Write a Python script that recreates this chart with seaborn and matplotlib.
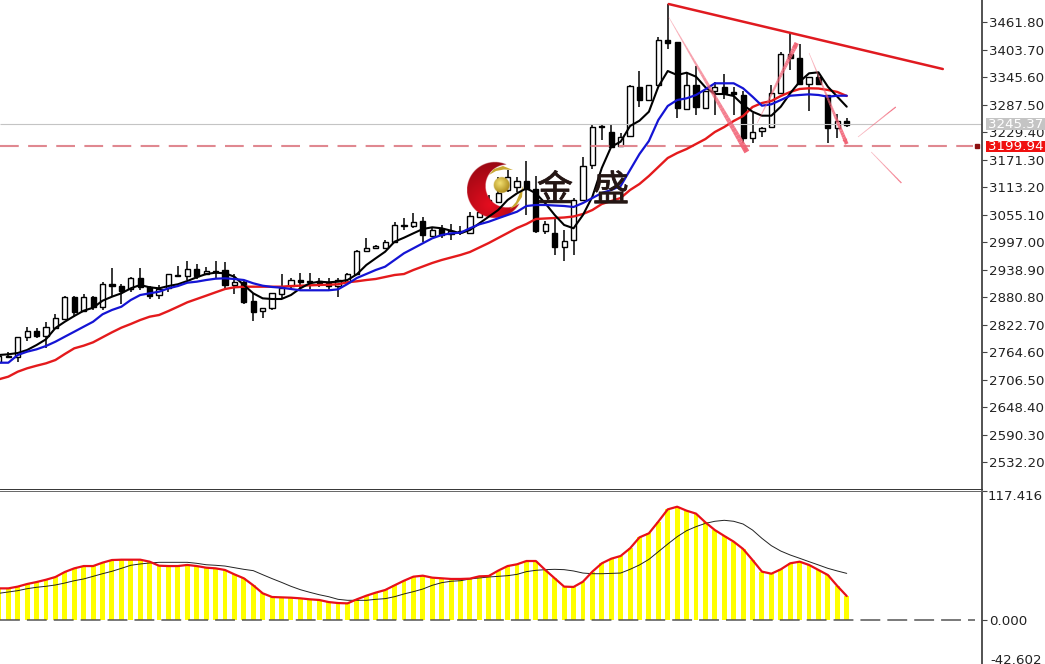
import numpy as np
import pandas as pd
import matplotlib
matplotlib.use("Agg")
import matplotlib.pyplot as plt
import matplotlib.patheffects as pe
from matplotlib.collections import LineCollection
from matplotlib.patches import Rectangle, Polygon
from matplotlib.transforms import Affine2D, Bbox
import seaborn as sns

opens = [2743,2757,2754,2796,2809,2799,2816,2834,2881,2852,2881,2860,2908,2905,2897,2921,2903,2885,2899,2928,2926,2939,2929,2936,2937,2906,2913,2872,2851,2857,2888,2904,2917,2915,2915,2910,2905,2913,2929,2978,2984,2985,2996,3030,3031,3041,3010,3024,3014,3021,3015,3050,3060,3082,3107,3113,3126,3110,3021,3015,2987,3001,3086,3160,3242,3230,3200,3221,3325,3296,3329,3424,3419,3279,3329,3281,3317,3325,3313,3308,3216,3231,3241,3311,3394,3385,3330,3346,3308,3238,3253]
highs = [2756,2764,2796,2818,2816,2828,2845,2883,2882,2887,2882,2912,2943,2908,2923,2942,2904,2906,2930,2946,2956,2951,2944,2956,2954,2929,2917,2889,2857,2890,2929,2920,2931,2931,2920,2920,2922,2931,2980,3005,2991,3001,3039,3047,3058,3050,3029,3033,3035,3031,3060,3075,3096,3134,3149,3135,3168,3136,3042,3047,3022,3089,3176,3246,3246,3246,3227,3329,3359,3329,3431,3500,3419,3357,3369,3317,3336,3352,3324,3315,3270,3239,3329,3399,3438,3415,3346,3357,3308,3267,3258]
lows = [2743,2752,2744,2788,2794,2773,2813,2832,2839,2849,2853,2853,2882,2867,2892,2896,2877,2877,2891,2924,2917,2918,2927,2920,2899,2887,2866,2831,2836,2853,2876,2899,2896,2897,2903,2896,2880,2910,2927,2976,2982,2982,2994,3022,3026,2998,3010,3006,3001,3012,3014,3050,3058,3079,3103,3103,3054,3015,3014,2970,2957,2970,3084,3151,3212,3196,3200,3219,3283,3295,3328,3405,3260,3278,3265,3280,3265,3299,3265,3206,3206,3219,3240,3310,3360,3330,3274,3329,3207,3216,3241]
closes = [2756,2754,2796,2808,2798,2817,2836,2881,2850,2881,2860,2908,2905,2894,2921,2903,2882,2897,2929,2926,2939,2925,2936,2934,2906,2913,2870,2850,2857,2889,2900,2917,2913,2912,2910,2905,2917,2929,2978,2984,2989,2998,3032,3032,3040,3012,3022,3012,3021,3019,3052,3061,3086,3100,3134,3126,3109,3021,3035,2987,3000,3086,3158,3240,3240,3198,3219,3327,3296,3329,3424,3417,3280,3329,3282,3316,3325,3311,3309,3216,3230,3238,3311,3395,3385,3330,3346,3330,3238,3253,3245]

ma_black = [2758.3,2759.8,2762.5,2768.9,2779.4,2791.5,2815.3,2828.6,2840.7,2851.9,2858.2,2873,2881.5,2888.6,2899.2,2906.2,2901.3,2899.2,2904,2907.7,2914.6,2922.5,2929.4,2932.2,2930.9,2923.7,2906.2,2888.6,2878,2876.6,2876.6,2885,2899.2,2909.8,2913.2,2911.9,2913.2,2916.7,2928.8,2948.4,2962.6,2976.5,2997.7,3006.1,3015.4,3024.5,3028.1,3026,3020.9,3015.4,3022.4,3036.5,3050.5,3064.6,3085.8,3099.9,3110.5,3099.9,3078.8,3054.1,3033,3026,3054.1,3092.7,3153.4,3198.4,3208.9,3242.1,3253.3,3272.3,3325.1,3358.3,3349.8,3354.7,3346.3,3323.9,3309.7,3309.7,3305.5,3286.5,3272.3,3263.9,3263.9,3282.9,3311.2,3335.7,3353.4,3355.5,3325.1,3304,3282.9]
ma_blue = [2742,2742,2758.3,2765.3,2770.3,2777.3,2786.4,2797,2807.5,2818.1,2828.6,2844.3,2853.4,2860.3,2874.5,2885,2888.6,2892,2899.2,2904,2911,2913.2,2916.7,2919.5,2920.3,2918.9,2916.7,2909.8,2904.7,2902,2900.5,2897.7,2895,2895,2895,2895,2897,2908.3,2921,2929.4,2937.9,2944.9,2959,2973.2,2983.7,2994.3,3004.8,3011.8,3015.4,3016.7,3026,3034.4,3039.9,3047.1,3054.1,3061,3073.1,3075.2,3075.2,3074.1,3073.1,3071,3079.4,3090,3100.5,3106.9,3115.3,3149.1,3182.9,3210.4,3254.8,3284.4,3297,3300.6,3307.6,3319.6,3332.3,3332.3,3332.3,3321.7,3304,3285,3288,3297,3306.1,3307.6,3309,3307.6,3304,3306.1,3306.1]
ma_red = [2707,2712.5,2723,2730.2,2735.7,2740.7,2747.7,2760.4,2772.4,2778,2785.1,2795.7,2806.2,2816,2823.8,2832.2,2839.2,2842.8,2851.2,2860.3,2869.6,2876.6,2883.6,2890.7,2897.7,2901.3,2902.6,2902.6,2902.6,2902.6,2902.6,2904,2904.7,2905.5,2906.2,2906.8,2907.7,2911.9,2914,2916.7,2918.9,2923.1,2927.3,2929.4,2937.9,2945.3,2952.7,2959,2964.3,2969.6,2975.9,2985.4,2994.9,3005.5,3016,3026.6,3035,3045.6,3046.7,3047.7,3048.8,3050.9,3056.2,3064.6,3077.3,3083.6,3090,3106.9,3119.6,3136.5,3155.5,3174.5,3185,3193.5,3204.1,3214.6,3229.4,3240,3252.7,3263.2,3282.2,3290.7,3294.9,3305.5,3314,3320.3,3321.8,3321.3,3318.2,3314,3305.5]

hist = [28.9,28.9,30.5,32.9,34.7,36.8,39.3,43.9,47.2,49.3,49.3,52.4,54.8,55.1,55.1,55.1,53.3,49.6,49.3,49.3,50.3,49.3,47.8,47.2,45.7,41.7,38.1,31.7,24.4,21,20.7,20.4,19.8,18.9,18.3,16.4,15.5,15.2,18.9,22.2,25,27.4,31.7,35.9,39.6,40.5,38.7,38.1,37.5,37.5,37.8,39.9,40.2,45.1,49.3,50.9,53.9,53.9,45.7,38.1,30.5,30.2,35,44.2,51.8,56,58.5,65.5,75.5,79.2,89.9,101.1,103.5,99.9,97.2,89.2,82.2,76.8,71.6,64.9,54.8,44.2,42.3,46.3,51.8,53.3,50.3,45.7,41.1,31.1,21.9]
signal = [24.4,25.6,26.8,28.6,29.9,30.8,32,33.8,35.9,37.5,39.9,42.3,44.5,47.2,50,51.2,52.1,52.7,52.7,52.7,52.7,51.8,50.5,50,49.3,47.8,46.3,45.1,41.4,37.8,34.4,30.8,27.7,25.3,23.1,21.3,18.9,18,18,18,18.9,19.5,21.3,23.8,25.9,28.3,31.7,34.1,35.4,35.9,37.5,38.4,39.3,39.9,40.5,41.7,44.2,45.4,46,46.3,46,44.8,42.9,42.3,42.3,42.6,42.9,46.3,50.3,55.4,62.4,69.4,76.1,81.6,85.3,88.3,90.2,91.1,90.2,87.7,82.2,74.6,67.9,63,59.4,56.4,53.3,50.3,47.2,44.8,42.6]

price_ticks = [3461.80,3403.70,3345.60,3287.50,3229.40,3171.30,3113.20,3055.10,2997.00,2938.90,2880.80,2822.70,2764.60,2706.50,2648.40,2590.30,2532.20]
osc_ticks = [117.416,0.000]
bid_price = 3245.37
level_price = 3199.94
trend_i = [71.1,100.2]
trend_p = [3499.8,3362.5]
arrow_i0 = [71.1,80.5,86.0,91.2,92.6]
arrow_p0 = [3472.4,3248.4,3396.3,3218.9,3187.2]
arrow_i1 = [79.4,84.7,90.0,95.2,95.8]
arrow_p1 = [3187.2,3417.5,3204.0,3282.2,3121.7]
arrow_w0 = [0.4,0.4,0.4,0.5,0.5]
arrow_w1 = [4.0,3.4,2.8,0.9,0.9]
arrow_head = [True,True,True,False,False]

sns.set_theme(style="white")
plt.rcParams["font.family"] = ["DejaVu Sans"]
W, H = 1045, 664
fig = plt.figure(figsize=(W/100, H/100), dpi=100, facecolor="white")
AX_R = 982
ax = fig.add_axes([0, (H-489.2)/H, AX_R/W, 489.2/H])
ax2 = fig.add_axes([0, 0, AX_R/W, (H-491.3)/H])
px = Affine2D().scale(1, -1).translate(0, H)
bars = np.arange(len(opens))

XLIM = (0.117, 104.36)
YLIM = (3508.3-489.2*2.1127, 3508.3)
YLIM2 = ((620-664)/1.0944, (620-491.3)/1.0944)

# candles
o, h, l, c = map(np.array, (opens, highs, lows, closes))
ax.vlines(bars, l, h, color="black", lw=1.1, zorder=2)
up = c >= o
ax.bar(bars[up], (c-o)[up], bottom=o[up], width=0.55, facecolor="white", edgecolor="black", lw=1.0, zorder=2.1)
ax.bar(bars[~up], (o-c)[~up], bottom=c[~up], width=0.55, facecolor="black", edgecolor="black", lw=1.0, zorder=2.1)

# logo beneath the averages
n = 400
gx, gy = np.meshgrid(np.linspace(467, 529, n), np.linspace(160, 220, n))
outer = (gx-495)**2 + (gy-190)**2 <= 28**2
inner = (gx-507)**2 + (gy-186)**2 <= 21.5**2
dist = np.clip(np.hypot(gx-490, gy-205)/46, 0, 1)
c0, c1 = np.array([0.90, 0.05, 0.12]), np.array([0.58, 0.03, 0.07])
rgba = np.zeros((n, n, 4))
for k in range(3):
    rgba[..., k] = c0[k] + (c1[k]-c0[k])*dist
rgba[..., 3] = (outer & ~inner).astype(float)
ax.imshow(rgba, extent=(467, 529, 220, 160), transform=px, zorder=2.3, aspect="auto", interpolation="bilinear")
gx, gy = np.meshgrid(np.linspace(493, 511, 120), np.linspace(176, 194, 120))
d = np.hypot(gx-500, gy-183)/11
g0, g1 = np.array([0.95, 0.88, 0.45]), np.array([0.66, 0.52, 0.08])
ball = np.zeros((120, 120, 4))
for k in range(3):
    ball[..., k] = g0[k] + (g1[k]-g0[k])*np.clip(d, 0, 1)
ball[..., 3] = (np.hypot(gx-501.7, gy-185) <= 8).astype(float)
ax.imshow(ball, extent=(493, 511, 194, 176), transform=px, zorder=2.4, aspect="auto", interpolation="bilinear")
ax.add_patch(Polygon([(489,175),(494,169),(503,166),(513,170),(504,169.5),(496,171)], closed=True,
                     transform=px, facecolor="#c8a830", edgecolor="none", zorder=2.4))
ax.add_patch(Polygon([(523,186),(522,197),(516,206),(510,209),(516,202),(519,195)], closed=True,
                     transform=px, facecolor="#c8a830", edgecolor="none", zorder=2.4))

# reference levels
ax.hlines(bid_price, *XLIM, color="#c4c4c4", lw=0.8, zorder=2.2)
ax.plot([XLIM[0], 103.4], [level_price, level_price], color="#e08890", lw=1.5,
        dashes=(9, 4.5), dash_capstyle="butt", zorder=2.5)
ax.plot([103.85], [level_price], marker="s", ms=3.2, color="#8c1010", clip_on=False, zorder=3)

# moving averages
sns.lineplot(x=bars, y=ma_red, color="#e41a1c", lw=1.7, ax=ax, estimator=None, zorder=3)
sns.lineplot(x=bars, y=ma_black, color="black", lw=1.5, ax=ax, estimator=None, zorder=3.1)
sns.lineplot(x=bars, y=ma_blue, color="#1414d4", lw=1.6, ax=ax, estimator=None, zorder=3.2)

# trend line and tapered arrows
sns.lineplot(x=trend_i, y=trend_p, color="#e01a20", lw=1.8, ax=ax, estimator=None, zorder=3.4)
for i0, p0, i1, p1, w0, w1, head in zip(arrow_i0, arrow_p0, arrow_i1, arrow_p1, arrow_w0, arrow_w1, arrow_head):
    t = np.linspace(0, 1, 41)
    xs, ys = i0+(i1-i0)*t, p0+(p1-p0)*t
    segs = np.stack([np.c_[xs[:-1], ys[:-1]], np.c_[xs[1:], ys[1:]]], axis=1)
    cols = np.zeros((40, 4))
    cols[:, :3] = (0.95, 0.38, 0.46)
    cols[:, 3] = 0.45 + 0.5*t[:-1]
    ax.add_collection(LineCollection(segs, linewidths=w0+(w1-w0)*t[:-1], colors=cols,
                                     capstyle="butt", zorder=3.6))
    if head:
        ax.annotate("", xy=(i1, p1), xytext=(i0+(i1-i0)*0.9, p0+(p1-p0)*0.9),
                    arrowprops=dict(arrowstyle="-|>", mutation_scale=9, lw=0, color="#f06474",
                                    shrinkA=0, shrinkB=0), zorder=3.7)

# watermark characters
for xp, ch in zip((555, 611), "金盛"):
    txt = ax.text(xp, 191, ch, transform=px, fontsize=26, color="#241614", ha="center", va="center",
                  family=["Noto Sans CJK SC", "DejaVu Sans"], alpha=0.95, zorder=4)
    txt.set_path_effects([pe.withStroke(linewidth=0.6, foreground="#241614")])

ax.set(xlim=XLIM, ylim=YLIM, xlabel="", ylabel="")
ax.set_xticks([])
ax.yaxis.tick_right()
ax.set_yticks(price_ticks)
ax.set_yticklabels([f"{v:.2f}" for v in price_ticks])
ax.tick_params(axis="y", length=3.6, width=0.8, pad=1.5, labelsize=9.6, labelcolor="#222222", color="#444444", right=True)

# oscillator panel
frame = pd.DataFrame({"bar": bars, "hist": hist})
sns.barplot(data=frame, x="bar", y="hist", native_scale=True, color="#ffff00", saturation=1,
            width=0.52, ax=ax2, zorder=2, linewidth=0)
ax2.plot([XLIM[0], 103.6], [0, 0], color="#555555", lw=1.1, dashes=(13, 4.6), dash_capstyle="butt", zorder=2.5)
sns.lineplot(x=bars, y=signal, color="#222222", lw=0.7, ax=ax2, estimator=None, zorder=3)
sns.lineplot(x=bars, y=hist, color="#e8101a", lw=1.6, ax=ax2, estimator=None, zorder=3.1)
ax2.set(xlim=XLIM, ylim=YLIM2, xlabel="", ylabel="")
ax2.set_xticks([])
ax2.yaxis.tick_right()
ax2.set_yticks(osc_ticks)
ax2.set_yticklabels(["", "0.000"])
ax2.tick_params(axis="y", length=3.6, width=0.8, pad=1.5, labelsize=9.6, labelcolor="#222222", color="#444444", right=True)

for a in (ax, ax2):
    for s in ("left", "bottom", "top", "right"):
        a.spines[s].set_visible(False)
    a.spines["right"].set_visible(True)
    a.spines["right"].set_color("#444444")
    a.spines["right"].set_linewidth(1.3)
ax.spines["bottom"].set_visible(True)
ax.spines["bottom"].set_color("#333333")
ax.spines["bottom"].set_linewidth(0.7)
ax2.spines["top"].set_visible(True)
ax2.spines["top"].set_color("#666666")
ax2.spines["top"].set_linewidth(0.7)

# text that sits on the price scale
fig.text(988/W, 1-497/H, "117.416", fontsize=9.6, color="#222222", va="center", ha="left")
low_label = fig.text(990/W, 1-661/H, "-42.602", fontsize=9.6, color="#222222", va="center", ha="left")
fig.add_artist(Rectangle((986, 118), 59, 12, transform=px, facecolor="#c4c4c4", edgecolor="none", zorder=5))
fig.add_artist(Rectangle((986, 141), 59, 11, transform=px, facecolor="#f0100f", edgecolor="none", zorder=5))
fig.text(988/W, 1-124.5/H, f"{bid_price:.2f}", fontsize=9.6, color="white", va="center", ha="left", zorder=6)
fig.text(988/W, 1-146.5/H, f"{level_price:.2f}", fontsize=9.6, color="white", va="center", ha="left", zorder=6)

fig.savefig("out.png", dpi=100, facecolor="white")
